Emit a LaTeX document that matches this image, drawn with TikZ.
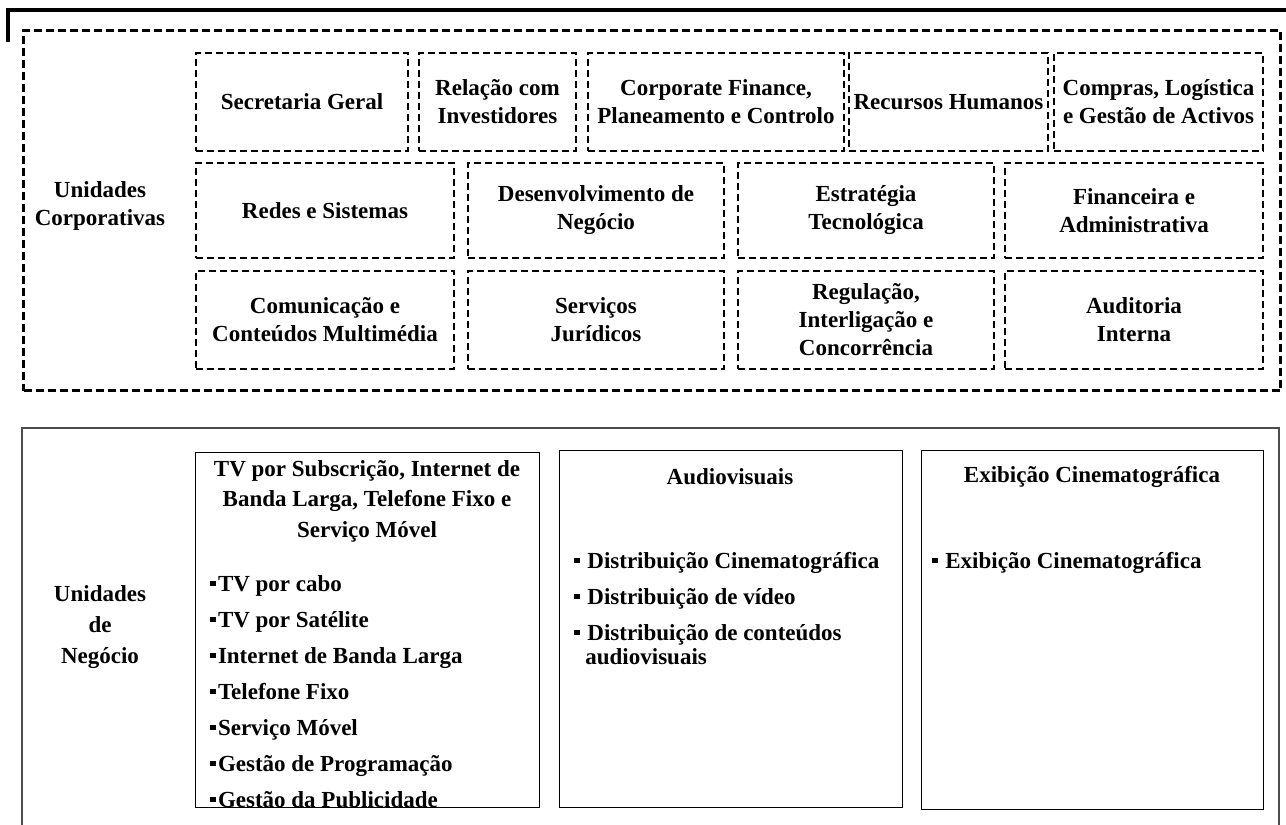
\documentclass[tikz,border=0pt]{standalone}
\usepackage{fontspec}
\setmainfont{Liberation Serif}
\newcommand{\sqb}[1][0.8pt]{\rule[2.6pt]{3pt}{2.8pt}\hspace{#1}}

\begin{document}
\begin{tikzpicture}[
    x=0.5pt, y=-0.5pt,
    every node/.style={font=\fontsize{11.5}{14}\selectfont\bfseries},
    group/.style={draw, line width=1.5pt, dash pattern=on 4pt off 2pt, anchor=north west, inner sep=0pt},
    unit/.style={draw, line width=1pt, dash pattern=on 3.5pt off 2pt, anchor=north west, align=center, inner sep=0pt},
    biz/.style={draw, line width=0.7pt, anchor=north west, inner sep=0pt},
    lst/.style={align=left, anchor=north west, inner sep=0pt},
    lbl/.style={align=center, inner sep=0pt},
    frame/.style={draw=black!70, line width=1pt}
]
\useasboundingbox (0,0) rectangle (1286,825);
\clip (0,0) rectangle (1286,825);

% header rule and lower frame
\draw[line width=1.8pt] (8,42) |- (1295,10);
\draw[frame] (22,840) |- (1279,428) -- (1279,840);

% corporate units
\node[group, minimum width=628.5pt, minimum height=180pt] (corp) at (22,29) {};
\node[lbl] (corplbl) at (100,206) {Unidades\\Corporativas};

\node[unit, minimum width=106pt, minimum height=49pt] (sec) at (195,52) {Secretaria Geral};
\node[unit, minimum width=78.5pt, minimum height=49pt] (rel) at (418,52) {Relação com\\Investidores};
\node[unit, minimum width=128pt, minimum height=49pt] (cfin) at (587,52) {Corporate Finance,\\Planeamento e Controlo};
\node[unit, minimum width=99.5pt, minimum height=49pt] (rh) at (848,52) {Recursos Humanos};
\node[unit, minimum width=104.5pt, minimum height=49pt] (comp) at (1053,52) {Compras, Logística\\e Gestão de Activos};

\node[unit, minimum width=129pt, minimum height=47.5pt] (redes) at (195,162) {Redes e Sistemas};
\node[unit, minimum width=128pt, minimum height=47.5pt] (desenv) at (467,162) {Desenvolvimento de\\Negócio};
\node[unit, minimum width=128pt, minimum height=47.5pt] (estr) at (737,162) {Estratégia\\Tecnológica};
\node[unit, minimum width=129pt, minimum height=47.5pt] (fin) at (1004,162) {Financeira e\\Administrativa};

\node[unit, minimum width=129pt, minimum height=49pt] (com) at (195,270) {Comunicação e\\Conteúdos Multimédia};
\node[unit, minimum width=128pt, minimum height=49pt] (jur) at (467,270) {Serviços\\Jurídicos};
\node[unit, minimum width=128pt, minimum height=49pt] (reg) at (737,270) {Regulação,\\Interligação e\\Concorrência};
\node[unit, minimum width=129pt, minimum height=49pt] (aud) at (1004,270) {Auditoria\\Interna};

% business units
\node[lbl] (bizlbl) at (100,627) {Unidades\\[1.5pt]de\\[1.5pt]Negócio};

\node[biz, minimum width=172pt, minimum height=177.5pt] (tvbox) at (195,452) {};
\node[lbl] (tvttl) at (367,501) {TV por Subscrição, Internet de\\[1.2pt]Banda Larga, Telefone Fixo e\\[1.2pt]Serviço Móvel};
\node[lst] (tvlst) at (210,575) {\sqb TV por cabo\\[4pt]
  \sqb TV por Satélite\\[4pt]
  \sqb Internet de Banda Larga\\[4pt]
  \sqb Telefone Fixo\\[4pt]
  \sqb Serviço Móvel\\[4pt]
  \sqb Gestão de Programação\\[4pt]
  \sqb Gestão da Publicidade};

\node[biz, minimum width=171.5pt, minimum height=178.5pt] (avbox) at (559,450) {};
\node[lbl] (avttl) at (730,477) {Audiovisuais};
\node[lst] (avlst) at (574,552) {\sqb[3.5pt]Distribuição Cinematográfica\\[4pt]
  \sqb[3.5pt]Distribuição de vídeo\\[4pt]
  \sqb[3.5pt]Distribuição de conteúdos\\[-2pt]
  \hspace*{5.5pt}audiovisuais};

\node[biz, minimum width=171pt, minimum height=179.5pt] (cinbox) at (921,450) {};
\node[lbl] (cinttl) at (1092,477) {Exibição Cinematográfica};
\node[lst] (cinlst) at (932,552) {\sqb[3.5pt]Exibição Cinematográfica};
\end{tikzpicture}
\end{document}
